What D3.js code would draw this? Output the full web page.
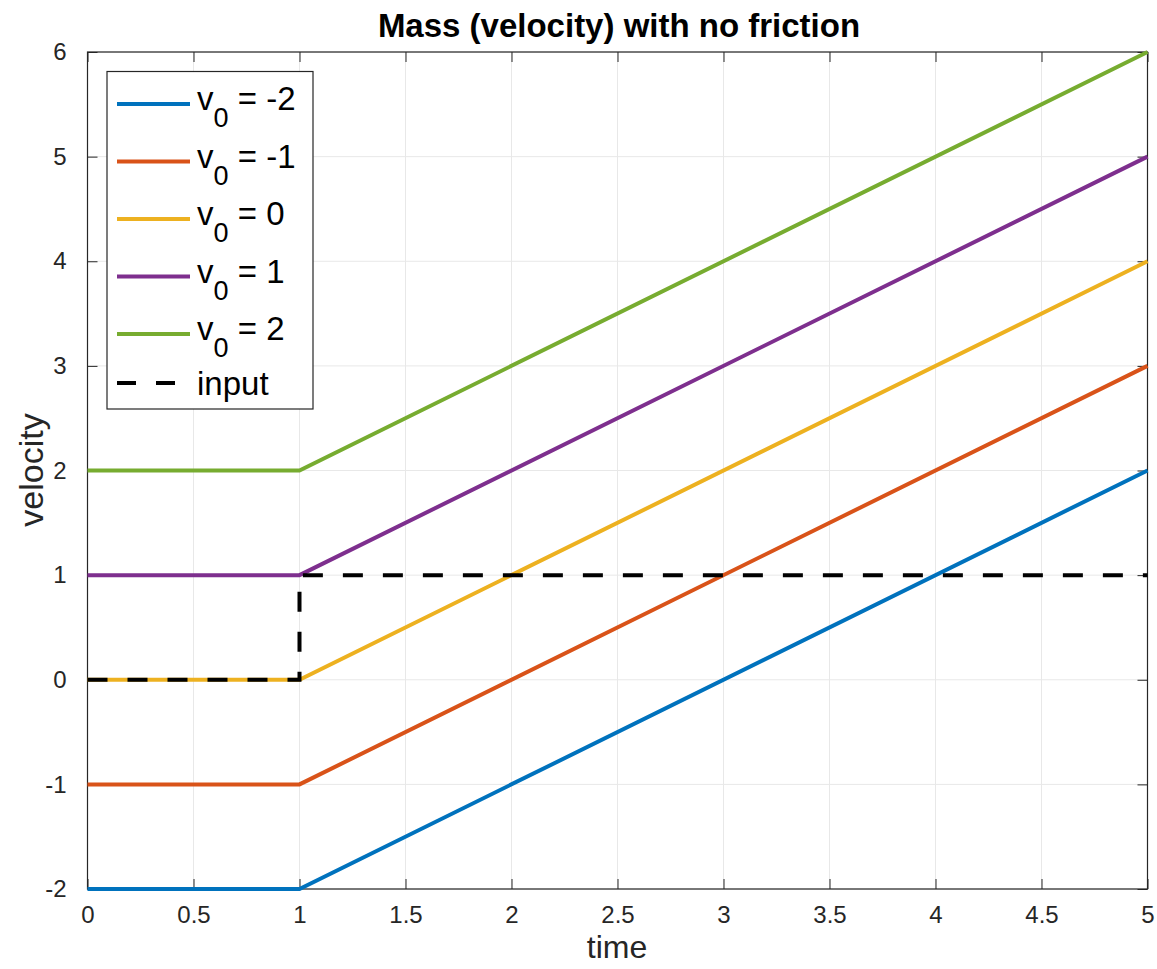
<!DOCTYPE html>
<html lang="en">
<head>
<meta charset="UTF-8">
<title>Mass (velocity) with no friction</title>
<script src="https://d3js.org/d3.v7.min.js"></script>
<style>
  body { margin: 0; background: #fff; }
  svg { display: block; font-family: "Liberation Sans", Arial, sans-serif; }
  .tick text { font-size: 24px; fill: #262626; font-family: "Liberation Sans", Arial, sans-serif; }
</style>
</head>
<body>
<svg width="1157" height="969"></svg>
<script>
// time samples and velocity for each initial condition
const times = [0, 1, 5];
const v0Labels = ["-2", "-1", "0", "1", "2"];
const velSeries = [
  [-2, -2, 2],
  [-1, -1, 3],
  [0, 0, 4],
  [1, 1, 5],
  [2, 2, 6]
];
const inputTimes = [0, 1, 1, 5];
const inputValues = [0, 0, 1, 1];
const xTicks = [0, 0.5, 1, 1.5, 2, 2.5, 3, 3.5, 4, 4.5, 5];
const yTicks = [-2, -1, 0, 1, 2, 3, 4, 5, 6];
const colors = ["#0072BD", "#D95319", "#EDB120", "#7E2F8E", "#77AC30"];

const svg = d3.select("svg");
const plotLeft = 87.5, plotRight = 1147.5, plotTop = 52, plotBottom = 889;

const x = d3.scaleLinear().domain([0, 5]).range([plotLeft, plotRight]);
const y = d3.scaleLinear().domain([-2, 6]).range([plotBottom, plotTop]);

// grid
const grid = svg.append("g");
grid.selectAll(".gx").data(xTicks).join("line")
  .attr("x1", d => x(d)).attr("x2", d => x(d))
  .attr("y1", plotTop).attr("y2", plotBottom)
  .attr("stroke", "#e8e8e8").attr("stroke-width", 1);
grid.selectAll(".gy").data(yTicks).join("line")
  .attr("x1", plotLeft).attr("x2", plotRight)
  .attr("y1", d => y(d)).attr("y2", d => y(d))
  .attr("stroke", "#e8e8e8").attr("stroke-width", 1);

// axes with inward ticks
const axisColor = "#262626";
const fmt = d => String(d);
function styleAxis(g) {
  g.select(".domain").remove();
  g.selectAll(".tick line").attr("stroke", axisColor).attr("stroke-width", 1);
}
svg.append("g").attr("transform", `translate(0,${plotBottom})`)
  .call(d3.axisBottom(x).tickValues(xTicks).tickSizeInner(-10).tickSizeOuter(0).tickPadding(17).tickFormat(fmt))
  .call(styleAxis)
  .selectAll("text").attr("dy", "0.71em");
svg.append("g").attr("transform", `translate(0,${plotTop})`)
  .call(d3.axisTop(x).tickValues(xTicks).tickSizeInner(-10).tickSizeOuter(0).tickFormat(""))
  .call(styleAxis);
svg.append("g").attr("transform", `translate(${plotLeft},0)`)
  .call(d3.axisLeft(y).tickValues(yTicks).tickSizeInner(-10).tickSizeOuter(0).tickPadding(21).tickFormat(fmt))
  .call(styleAxis);
svg.append("g").attr("transform", `translate(${plotRight},0)`)
  .call(d3.axisRight(y).tickValues(yTicks).tickSizeInner(-10).tickSizeOuter(0).tickFormat(""))
  .call(styleAxis);

// box
svg.append("rect")
  .attr("x", plotLeft).attr("y", plotTop)
  .attr("width", plotRight - plotLeft).attr("height", plotBottom - plotTop)
  .attr("fill", "none").attr("stroke", axisColor).attr("stroke-width", 1.2);

// lines
const line = d3.line().x(d => x(d[0])).y(d => y(d[1]));
velSeries.forEach((vals, i) => {
  svg.append("path")
    .datum(times.map((t, j) => [t, vals[j]]))
    .attr("d", line)
    .attr("fill", "none")
    .attr("stroke", colors[i])
    .attr("stroke-width", 4);
});
svg.append("path")
  .datum(inputTimes.map((t, j) => [t, inputValues[j]]))
  .attr("d", line)
  .attr("fill", "none")
  .attr("stroke", "#000")
  .attr("stroke-width", 4)
  .attr("stroke-dasharray", "20,20");

// title and labels
svg.append("text")
  .attr("x", 619).attr("y", 37)
  .attr("text-anchor", "middle")
  .attr("font-size", 33).attr("font-weight", "bold").attr("fill", "#000")
  .text("Mass (velocity) with no friction");
svg.append("text")
  .attr("x", 617).attr("y", 958)
  .attr("text-anchor", "middle")
  .attr("font-size", 32).attr("fill", "#262626")
  .text("time");
svg.append("text")
  .attr("transform", `translate(43,470) rotate(-90)`)
  .attr("text-anchor", "middle")
  .attr("font-size", 34).attr("fill", "#262626")
  .text("velocity");

// legend
const legend = svg.append("g");
legend.append("rect")
  .attr("x", 107).attr("y", 71.5).attr("width", 206).attr("height", 337.5)
  .attr("fill", "#fff").attr("stroke", axisColor).attr("stroke-width", 1.2);
const rowY = i => 104 + i * 57.5;
v0Labels.forEach((lab, i) => {
  legend.append("line")
    .attr("x1", 117).attr("x2", 190)
    .attr("y1", rowY(i)).attr("y2", rowY(i))
    .attr("stroke", colors[i]).attr("stroke-width", 4);
  const t = legend.append("text")
    .attr("x", 197).attr("y", rowY(i) + 6)
    .attr("font-size", 33).attr("fill", "#000");
  t.append("tspan").text("v");
  t.append("tspan").attr("dy", 17).attr("font-size", 27).text("0");
  t.append("tspan").attr("dy", -17).text(" = " + lab);
});
const inputY = 383;
legend.append("line")
  .attr("x1", 117).attr("x2", 177)
  .attr("y1", inputY).attr("y2", inputY)
  .attr("stroke", "#000").attr("stroke-width", 4)
  .attr("stroke-dasharray", "19,20");
legend.append("text")
  .attr("x", 197).attr("y", inputY + 12)
  .attr("font-size", 33).attr("fill", "#000")
  .text("input");
</script>
</body>
</html>
